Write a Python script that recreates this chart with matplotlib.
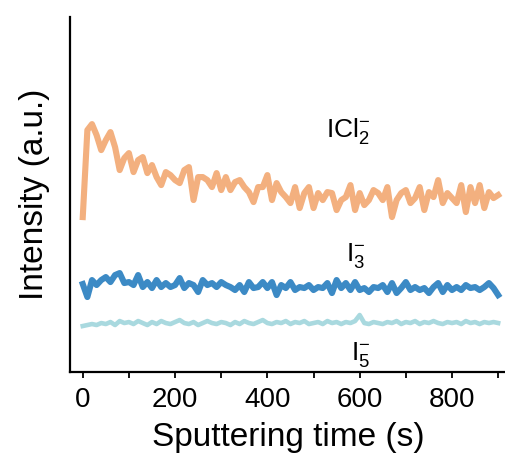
import matplotlib
matplotlib.use("Agg")
import matplotlib.pyplot as plt
import numpy as np
from matplotlib.ticker import MultipleLocator

plt.rcParams['font.family'] = ['Liberation Sans', 'DejaVu Sans']
plt.rcParams['mathtext.fontset'] = 'custom'
plt.rcParams['mathtext.rm'] = 'Liberation Sans'
plt.rcParams['mathtext.it'] = 'Liberation Sans'

# sputtering time (s), one reading every 10 s
time = np.arange(0, 901, 10)

icl2 = [155, 242, 248, 237, 222, 232, 240, 225, 202, 214, 219, 200, 212, 215, 199, 207,
        195, 187, 200, 197, 192, 189, 202, 205, 172, 195, 195, 192, 185, 199, 182,
        195, 182, 190, 192, 185, 180, 170, 185, 185, 197, 172, 189, 180, 175, 169,
        185, 164, 179, 185, 164, 179, 172, 180, 179, 162, 172, 175, 187, 162, 179,
        167, 172, 182, 179, 172, 185, 155, 172, 179, 182, 169, 174, 185, 162, 180,
        175, 192, 169, 179, 174, 169, 187, 160, 185, 169, 187, 164, 180, 174, 177]

i3 = [88, 75, 92, 87, 92, 95, 90, 97, 99, 89, 90, 87, 97, 85, 90, 84, 92, 85, 89, 85,
      87, 94, 84, 89, 87, 80, 92, 87, 89, 85, 90,
      87, 85, 82, 87, 80, 90, 84, 85, 90, 84, 90, 77, 87, 84, 90, 82, 85, 84, 87, 82,
      85, 84, 89, 79, 92, 84, 89, 82, 90, 82,
      84, 80, 85, 84, 87, 80, 89, 79, 84, 90, 82, 85, 82, 84, 79, 85, 89, 80, 87, 82,
      85, 82, 87, 84, 85, 82, 85, 89, 84, 77]

i5 = [46, 47, 48, 47, 49, 48, 50, 47, 51, 49, 50, 48, 51, 49, 47, 50, 48, 51, 49, 48,
      50, 52, 49, 48, 50, 47, 49, 51, 49, 48, 50,
      49, 47, 50, 48, 51, 49, 48, 50, 52, 49, 48, 50, 49, 51, 48, 50, 49, 51, 48, 49,
      50, 48, 51, 49, 50, 48, 50, 49, 51, 57,
      49, 48, 50, 49, 48, 50, 49, 51, 48, 50, 49, 51, 48, 50, 49, 51, 49, 48, 50, 49,
      50, 48, 51, 49, 50, 48, 50, 49, 50, 49]

fig = plt.figure(figsize=(5.06, 4.63), dpi=100)
ax = fig.add_axes([0.138, 0.1965, 0.862, 0.7665])

ax.plot(time, icl2, color='#F3B07F', lw=4.4, solid_joinstyle='round')
ax.plot(time, i3, color='#3C8AC5', lw=4.4, solid_joinstyle='round')
ax.plot(time, i5, color='#A9D9DF', lw=3.3, solid_joinstyle='round')

ax.text(574, 241, r'ICl$_2^{-}$', fontsize=19, ha='center', va='center')
ax.text(591, 117, r'I$_3^{-}$', fontsize=19, ha='center', va='center')
ax.text(602, 18, r'I$_5^{-}$', fontsize=19, ha='center', va='center')

ax.set_xlim(-28, 917)
ax.set_ylim(0, 355)
ax.set_yticks([])
ax.xaxis.set_major_locator(MultipleLocator(200))
ax.xaxis.set_minor_locator(MultipleLocator(100))
ax.tick_params(axis='x', which='both', direction='out', length=4, width=1.3,
               labelsize=20, pad=7)
for s in ['top', 'right']:
    ax.spines[s].set_visible(False)
for s in ['left', 'bottom']:
    ax.spines[s].set_linewidth(1.6)

ax.set_xlabel('Sputtering time (s)', fontsize=24, labelpad=6)
ax.set_ylabel('Intensity (a.u.)', fontsize=24, labelpad=14)

fig.savefig('out.png', dpi=100)
